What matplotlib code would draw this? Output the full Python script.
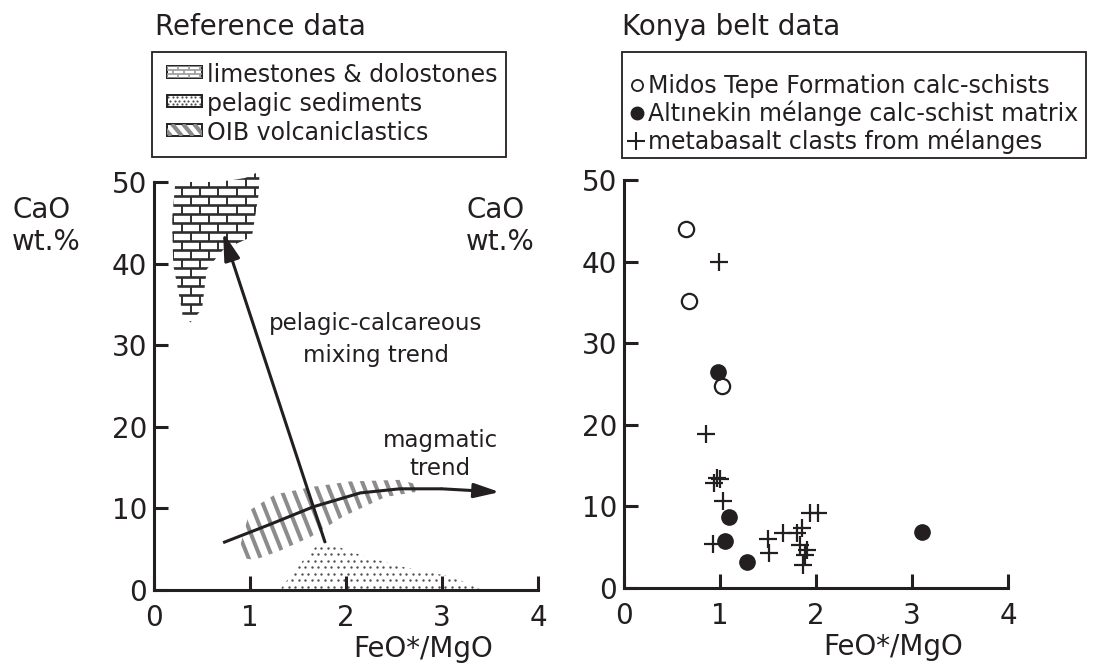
import numpy as np
import matplotlib
matplotlib.use('Agg')
import matplotlib.pyplot as plt
from matplotlib.patches import Polygon, Rectangle
from matplotlib.collections import LineCollection

plt.rcParams['font.family'] = ['DejaVu Sans']

INK = '#231f20'
GREY = '#8c8c8c'
DOT = '#505050'

# ---- axes ticks
x_ticks = [0, 1, 2, 3, 4]
y_ticks = [0, 10, 20, 30, 40, 50]

# ---- reference fields (FeO*/MgO, CaO wt.%)
lime_x = [0.22, 0.38, 0.60, 0.80, 0.95, 1.10, 1.09, 1.02, 0.72, 0.55, 0.50, 0.38, 0.30, 0.20, 0.19]
lime_y = [49.7, 50.0, 50.0, 50.2, 50.5, 51.3, 48.5, 43.3, 41.7, 39.3, 34.4, 32.8, 33.7, 39.9, 45.4]

oib_x = [0.90, 1.00, 1.26, 1.63, 2.04, 2.56, 2.75, 2.72, 2.41, 1.97, 1.63, 1.31, 1.05, 0.92]
oib_y = [5.5, 9.8, 11.7, 12.6, 13.3, 13.5, 12.9, 12.0, 11.4, 9.0, 6.5, 4.8, 3.7, 3.9]

pel_x = [1.31, 1.47, 1.63, 1.76, 2.04, 2.56, 3.11, 3.42]
pel_y = [0.0, 2.5, 4.7, 6.1, 4.7, 2.9, 1.6, 0.0]

# trends
mix_start = (1.78, 5.9)
mix_end = (0.72, 43.8)
mag_x = [0.72, 1.20, 1.66, 2.15, 2.56, 3.00]
mag_y = [5.8, 8.0, 10.2, 11.9, 12.4, 12.4]
mag_tip = (3.60, 12.0)

# ---- Konya belt data
midos_x = [0.65, 0.68, 1.02]
midos_y = [44.0, 35.2, 24.7]

altin_x = [0.98, 1.09, 1.05, 1.28, 3.10]
altin_y = [26.5, 8.7, 5.8, 3.2, 6.9]

meta_x = [0.99, 0.85, 0.94, 0.97, 1.00, 1.03, 0.93, 1.50, 1.51, 1.66, 1.80, 1.85,
          1.94, 2.02, 1.83, 1.91, 1.89, 1.86]
meta_y = [40.0, 18.9, 12.9, 13.5, 13.3, 10.7, 5.4, 6.0, 4.3, 6.7, 6.7, 7.4,
          9.2, 9.2, 5.3, 4.7, 4.0, 2.8]

ref_labels = ['limestones & dolostones', 'pelagic sediments', 'OIB volcaniclastics']
konya_labels = ['Midos Tepe Formation calc-schists',
                'Alt\u0131nekin m\u00e9lange calc-schist matrix',
                'metabasalt clasts from m\u00e9langes']


def clipped(ax, segs, clip, color, lw):
    lc = LineCollection(segs, colors=color, linewidths=lw, capstyle='butt')
    ax.add_collection(lc, autolim=False)
    lc.set_clip_path(clip)
    if not isinstance(clip, Rectangle):
        lc.set_clip_box(None)   # let the bricks poke slightly above 50


def bricks(ax, clip, x0, x1, y0, nrows, dy, dx, color, lw_h, lw_v):
    # staggered rows of bricks; dy may be negative
    hs, vs = [], []
    for i in range(nrows + 1):
        y = y0 + i * dy
        hs.append([(x0, y), (x1, y)])
        if i == nrows:
            break
        off = dx / 2 if i % 2 else 0
        for x in np.arange(x0 + off, x1, dx):
            vs.append([(x, y), (x, y + dy)])
    clipped(ax, hs, clip, color, lw_h)
    clipped(ax, vs, clip, color, lw_v)


def stripes(ax, clip, starts, y_a, y_b, run, color, lw):
    segs = [[(c, y_a), (c + run, y_b)] for c in starts]
    clipped(ax, segs, clip, color, lw)


def stipple(ax, clip, x0, x1, y0, y1, dx, dy, size):
    px, py = [], []
    for i, y in enumerate(np.arange(y0, y1, dy)):
        off = dx / 2 if i % 2 else 0
        for x in np.arange(x0 + off, x1, dx):
            px.append(x)
            py.append(y)
    sc = ax.scatter(px, py, s=size, c=DOT, linewidths=0)
    sc.set_clip_path(clip)


def style(ax):
    ax.set_xlim(0, 4)
    ax.set_ylim(0, 50)
    ax.patch.set_visible(False)
    ax.spines[['top', 'right']].set_visible(False)
    for s in ['left', 'bottom']:
        ax.spines[s].set_linewidth(2.2)
        ax.spines[s].set_color(INK)
    ax.set_xticks(x_ticks)
    ax.set_yticks(y_ticks)
    ax.tick_params(direction='in', length=10, width=2.2, colors=INK, labelsize=20)
    ax.tick_params(axis='x', pad=10)
    ax.tick_params(axis='y', pad=5)
    ax.set_xlabel('FeO*/MgO', fontsize=20, color=INK)
    ax.xaxis.set_label_coords(0.70, -0.11)


W, H = 1096, 672
fig = plt.figure(figsize=(W / 100, H / 100), dpi=100)

# overlay in pixel coordinates for titles and legend boxes
ov = fig.add_axes([0, 0, 1, 1], zorder=0)
ov.set_xlim(0, W)
ov.set_ylim(H, 0)
ov.axis('off')

ax1 = fig.add_axes([154 / W, 1 - 590 / H, 384 / W, 408 / H], zorder=1)
ax2 = fig.add_axes([624 / W, 1 - 588 / H, 384 / W, 408 / H], zorder=1)
style(ax1)
style(ax2)

# ---- left panel: reference fields
lime = Polygon(np.column_stack([lime_x, lime_y]), closed=True, fc='none', ec='none')
ax1.add_patch(lime)
bricks(ax1, lime, 0.1, 1.2, 51.6, 18, -1.1, 0.19, '#2e2e2e', 1.9, 1.4)

oib = Polygon(np.column_stack([oib_x, oib_y]), closed=True, fc='none', ec='none')
ax1.add_patch(oib)
stripes(ax1, oib, np.arange(0.2, 3.0, 0.125), 16, 0, 0.543, GREY, 2.9)

pel = Polygon(np.column_stack([pel_x, pel_y]), closed=True, fc='none', ec='none')
ax1.add_patch(pel)
stipple(ax1, pel, 1.2, 3.5, 0.4, 6.5, 0.068, 0.8, 3.0)

head = '-|>,head_length=0.7,head_width=0.2'
ax1.annotate('', xy=mix_end, xytext=mix_start,
             arrowprops=dict(arrowstyle=head, lw=2.2, color=INK,
                             mutation_scale=24, shrinkA=0, shrinkB=0))
ax1.plot(mag_x, mag_y, color=INK, lw=2.2, solid_capstyle='butt')
ax1.annotate('', xy=mag_tip, xytext=(mag_x[-1], mag_y[-1]),
             arrowprops=dict(arrowstyle=head, lw=2.2, color=INK,
                             mutation_scale=22, shrinkA=0, shrinkB=0))

ax1.text(2.31, 31.9, 'pelagic-calcareous', ha='center', va='baseline', fontsize=16.5, color=INK)
ax1.text(2.31, 28.0, 'mixing trend', ha='center', va='baseline', fontsize=16.5, color=INK)
ax1.text(2.98, 17.5, 'magmatic', ha='center', va='baseline', fontsize=16.5, color=INK)
ax1.text(2.98, 14.1, 'trend', ha='center', va='baseline', fontsize=16.5, color=INK)

# ---- right panel: Konya belt samples
ax2.plot(meta_x, meta_y, '+', color=INK, ms=13, mew=1.6, clip_on=False)
ax2.plot(midos_x, midos_y, 'o', mfc='white', mec=INK, ms=11, mew=1.6, clip_on=False)
ax2.plot(altin_x, altin_y, 'o', mfc=INK, mec=INK, ms=11, clip_on=False)

# ---- titles and axis names
ov.text(155, 35, 'Reference data', fontsize=20, color=INK, va='baseline')
ov.text(622, 35, 'Konya belt data', fontsize=20, color=INK, va='baseline')
for x0 in (12, 466):
    ov.text(x0, 218, 'CaO', fontsize=20, color=INK, va='baseline')
    ov.text(x0, 250, 'wt.%', fontsize=20, color=INK, va='baseline')

# ---- legends
LEG_FS = 17
rows = [82, 111, 140]
rows2 = [93, 121, 149]
t1 = [ov.text(207, yb, lab, fontsize=LEG_FS, color=INK, va='baseline')
      for lab, yb in zip(ref_labels, rows)]
t2 = [ov.text(648, yb, lab, fontsize=LEG_FS, color=INK, va='baseline')
      for lab, yb in zip(konya_labels, rows2)]
fig.canvas.draw()
inv = ov.transData.inverted()
right1 = max(inv.transform(t.get_window_extent().get_points())[1, 0] for t in t1)
right2 = max(inv.transform(t.get_window_extent().get_points())[1, 0] for t in t2)

ov.add_patch(Rectangle((152, 52), right1 + 8 - 152, 105, fc='white', ec=INK, lw=1.3, zorder=0))
ov.add_patch(Rectangle((622, 52), min(right2 + 8, W - 4) - 622, 106, fc='white', ec=INK, lw=1.3, zorder=0))

ic = [Rectangle((167, yb - 16), 35, 12, fc='white', ec='none') for yb in rows]
for r in ic:
    ov.add_patch(r)
bricks(ov, ic[0], 167, 202, rows[0] - 16, 3, 4, 11, '#9a9a9a', 1.2, 1.2)
stipple(ov, ic[1], 168, 202, rows[1] - 14, rows[1] - 4, 4.5, 3.5, 2.5)
stripes(ov, ic[2], np.arange(150, 210, 11), rows[2] - 16, rows[2] - 4, 10, GREY, 3.0)
for yb in rows:
    ov.add_patch(Rectangle((167, yb - 16), 35, 12, fc='none', ec=INK, lw=1.4))

ov.plot(637, rows2[0] - 8, 'o', mfc='white', mec=INK, ms=8, mew=1.3)
ov.plot(637, rows2[1] - 8, 'o', mfc=INK, mec=INK, ms=9)
ov.plot(636, rows2[2] - 8, '+', color=INK, ms=13, mew=1.5)

fig.savefig('out.png', dpi=100)
